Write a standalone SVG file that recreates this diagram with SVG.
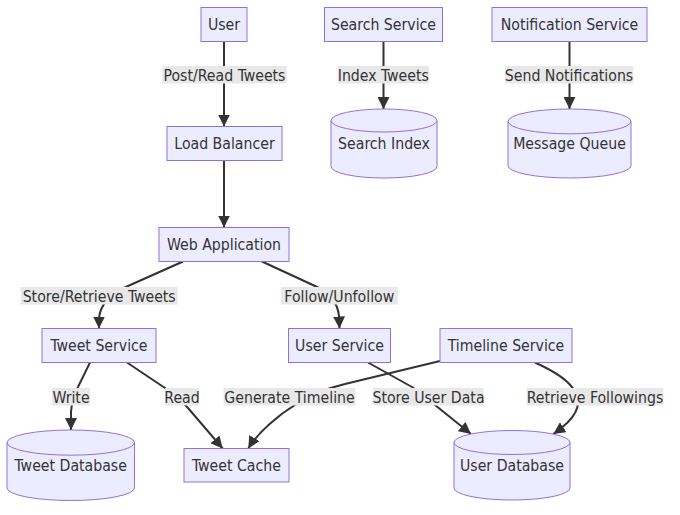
<svg xmlns="http://www.w3.org/2000/svg" width="680" height="515" viewBox="0 0 680 515">
<style>
.node rect, .node path { fill: #ECECFF; stroke: #9370DB; stroke-width: 1; }
.node text, .lbl text { font-family: "DejaVu Sans Condensed", "DejaVu Sans", "Liberation Sans", sans-serif; font-stretch: condensed; font-size: 15.7px; fill: #333333; text-anchor: middle; }
.edge { fill: none; stroke: #333333; stroke-width: 2; }
.lbl rect { fill: #e8e8e8; }
</style>
<defs>
<marker id="arrow" viewBox="0 0 10 10" refX="10" refY="5" markerUnits="userSpaceOnUse" markerWidth="12" markerHeight="12" orient="auto">
<path d="M0,0 L10,5 L0,10 z" fill="#333333"/>
</marker>
</defs>
<rect width="680" height="515" fill="#ffffff"/>
<g id="connectors">
<path class="edge" marker-end="url(#arrow)" d="M224,41.5 L224,126.5"/>
<path class="edge" marker-end="url(#arrow)" d="M383.5,41.5 L383.5,109"/>
<path class="edge" marker-end="url(#arrow)" d="M569.5,41.5 L569.5,109"/>
<path class="edge" marker-end="url(#arrow)" d="M224,160.5 L224,227.5"/>
<path class="edge" marker-end="url(#arrow)" d="M183,261.5 L128,286 Q101,298 99,318 L99,328.5"/>
<path class="edge" marker-end="url(#arrow)" d="M262,261.5 L315,286 Q337,296 339,316 L339.5,328.5"/>
<path class="edge" marker-end="url(#arrow)" d="M90,362.5 L78,387 Q72,398 71,412 L71,430"/>
<path class="edge" marker-end="url(#arrow)" d="M127,362.5 L165,388 Q178,397 188,408 L222.7,448.5"/>
<path class="edge" marker-end="url(#arrow)" d="M440,361 L345,384 C320,390 305,398 295,405 C280,414 258,432 248.3,448.5"/>
<path class="edge" marker-end="url(#arrow)" d="M368,362.5 L412,387 C420,391.5 428,399 435,405 L471,434"/>
<path class="edge" marker-end="url(#arrow)" d="M535,362.5 C556,372 571,383 575,392 C581,402 580,416 553.3,434"/>
</g>
<g id="edge-labels" class="lbl">
<rect x="162.3" y="66" width="124.4" height="17.5"/><text x="224.5" y="80.5">Post/Read Tweets</text>
<rect x="337.7" y="66" width="91.3" height="17.5"/><text x="383.3" y="80.5">Index Tweets</text>
<rect x="504.9" y="66" width="128.3" height="17.5"/><text x="569" y="80.5">Send Notifications</text>
<rect x="20.7" y="287" width="157" height="17.5"/><text x="99.2" y="301.5">Store/Retrieve Tweets</text>
<rect x="281" y="287" width="116.7" height="17.5"/><text x="339.3" y="301.5">Follow/Unfollow</text>
<rect x="51.8" y="388" width="38.3" height="17.5"/><text x="71" y="402.5">Write</text>
<rect x="165.2" y="388" width="33.7" height="17.5"/><text x="182" y="402.5">Read</text>
<rect x="223.6" y="388" width="131.7" height="17.5"/><text x="289.5" y="402.5">Generate Timeline</text>
<rect x="373.3" y="388" width="110.4" height="17.5"/><text x="428.5" y="402.5">Store User Data</text>
<rect x="526.7" y="388" width="136.6" height="17.5"/><text x="595" y="402.5">Retrieve Followings</text>
</g>
<g id="node-user" class="node"><rect x="201" y="7.5" width="46" height="34"/><text x="224" y="30">User</text></g>
<g id="node-search-service" class="node"><rect x="324.5" y="7.5" width="118" height="34"/><text x="383.5" y="30">Search Service</text></g>
<g id="node-notification-service" class="node"><rect x="492" y="7.5" width="155" height="34"/><text x="569.5" y="30">Notification Service</text></g>
<g id="node-load-balancer" class="node"><rect x="167" y="126.5" width="115" height="34"/><text x="224.5" y="149">Load Balancer</text></g>
<g id="node-search-index" class="node"><path d="M331,120.5 a53,11.5 0 0 0 106,0 a53,11.5 0 0 0 -106,0 l0,46 a53,11.5 0 0 0 106,0 l0,-46"/><text x="384" y="149">Search Index</text></g>
<g id="node-message-queue" class="node"><path d="M508,121.4 a61.5,12.4 0 0 0 123,0 a61.5,12.4 0 0 0 -123,0 l0,44.2 a61.5,12.4 0 0 0 123,0 l0,-44.2"/><text x="569.5" y="149">Message Queue</text></g>
<g id="node-web-application" class="node"><rect x="159" y="227.5" width="130" height="34"/><text x="224" y="250">Web Application</text></g>
<g id="node-tweet-service" class="node"><rect x="42" y="328.5" width="114" height="34"/><text x="99" y="351">Tweet Service</text></g>
<g id="node-user-service" class="node"><rect x="288.5" y="328.5" width="102" height="34"/><text x="339.5" y="351">User Service</text></g>
<g id="node-timeline-service" class="node"><rect x="440" y="328.5" width="132" height="34"/><text x="506" y="351">Timeline Service</text></g>
<g id="node-tweet-database" class="node"><path d="M7,442.6 a63.75,12.6 0 0 0 127.5,0 a63.75,12.6 0 0 0 -127.5,0 l0,45.3 a63.75,12.6 0 0 0 127.5,0 l0,-45.3"/><text x="70.75" y="470.5">Tweet Database</text></g>
<g id="node-tweet-cache" class="node"><rect x="184" y="448.5" width="105" height="33.5"/><text x="236.5" y="470.7">Tweet Cache</text></g>
<g id="node-user-database" class="node"><path d="M454,442.5 a58,12 0 0 0 116,0 a58,12 0 0 0 -116,0 l0,45.5 a58,12 0 0 0 116,0 l0,-45.5"/><text x="512" y="470.5">User Database</text></g>
</svg>
